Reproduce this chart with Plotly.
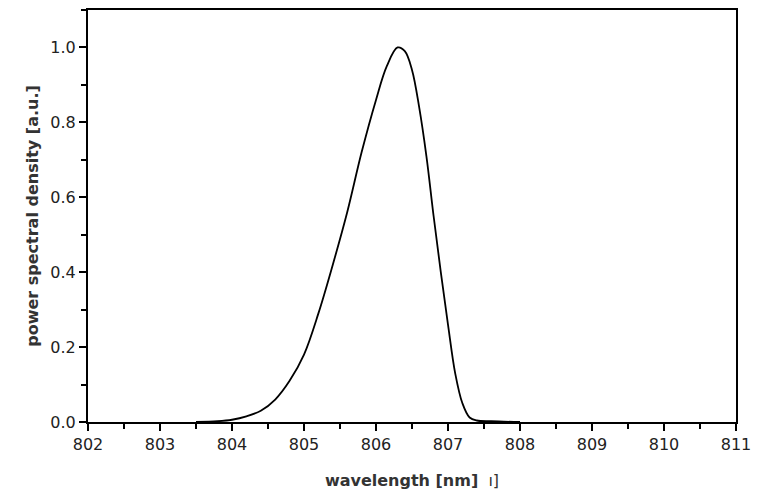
import plotly.graph_objects as go

wavelength = [803.5, 803.8, 804.0, 804.2, 804.4, 804.6, 804.8, 805.0, 805.2, 805.4, 805.6, 805.8,
              806.0, 806.15, 806.3, 806.4, 806.5, 806.6, 806.7, 806.8, 806.9, 807.0, 807.1,
              807.2, 807.3, 807.4, 807.6, 808.0]
psd = [0.0, 0.002, 0.006, 0.015, 0.03, 0.06, 0.11, 0.18, 0.29, 0.42, 0.56, 0.72,
       0.86, 0.95, 1.0, 0.99, 0.94, 0.84, 0.71, 0.55, 0.40, 0.26, 0.13,
       0.05, 0.012, 0.004, 0.002, 0.0]

fig = go.Figure(go.Scatter(x=wavelength, y=psd, mode="lines",
                           line=dict(color="black", width=1.8, shape="spline")))

axis = dict(showgrid=False, zeroline=False, showline=True, linecolor="black", linewidth=2,
            ticks="outside", ticklen=7, tickwidth=2, tickcolor="black", mirror=True,
            automargin=False, tickfont=dict(family="DejaVu Sans", size=16, color="#222"))
fig.update_xaxes(axis, range=[802, 811], dtick=1,
                 minor=dict(dtick=0.5, ticks="outside", ticklen=5, tickwidth=2, tickcolor="black"),
                 title=dict(text="<b>wavelength [nm]</b>  ı]", standoff=22,
                            font=dict(family="DejaVu Sans", size=16, color="#333")))
fig.update_yaxes(axis, range=[0, 1.1], dtick=0.2, tickformat=".1f",
                 minor=dict(dtick=0.1, ticks="outside", ticklen=5, tickwidth=2, tickcolor="black"),
                 title=dict(text="<b>power spectral density [a.u.]</b>", standoff=8,
                            font=dict(family="DejaVu Sans", size=16, color="#333")))
fig.update_layout(width=754, height=493, plot_bgcolor="white", paper_bgcolor="white",
                  margin=dict(l=80, r=26, t=2, b=79), showlegend=False)
fig.write_html("out.html")
